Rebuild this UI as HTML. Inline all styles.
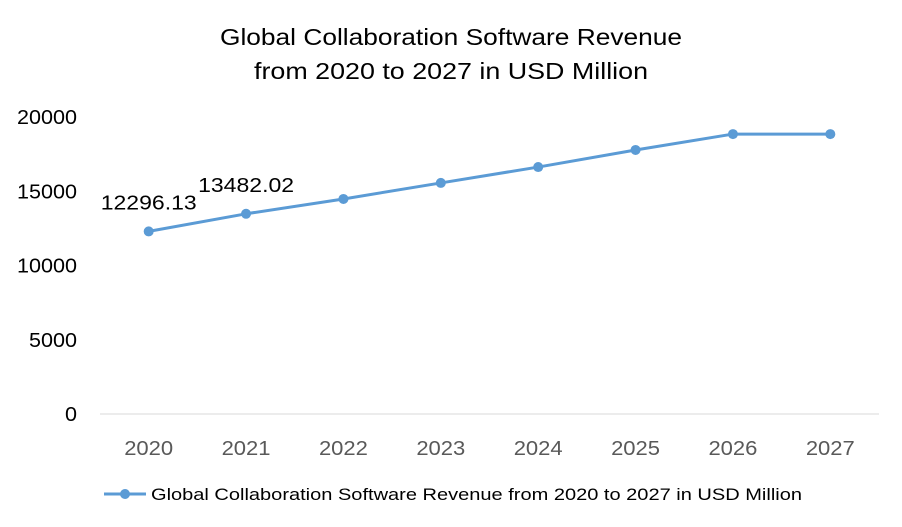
<!DOCTYPE html>
<html><head><meta charset="utf-8">
<style>
body{margin:0;background:#fff;}
svg{display:block;font-family:"Liberation Sans",sans-serif;}
</style></head>
<body>
<svg id="chart" width="902" height="527">
<text x="451" y="45" text-anchor="middle" font-size="23" textLength="462" lengthAdjust="spacingAndGlyphs" fill="#000">Global Collaboration Software Revenue</text>
<text x="451" y="79" text-anchor="middle" font-size="23" textLength="394" lengthAdjust="spacingAndGlyphs" fill="#000">from 2020 to 2027 in USD Million</text>
<g id="yaxis"></g>
<g id="xaxis"></g>
<g id="series"></g>
<g>
<line x1="104" y1="494" x2="146" y2="494" stroke="#5b9bd5" stroke-width="3"/>
<circle cx="125" cy="494" r="5" fill="#5b9bd5"/>
<text x="151" y="500" font-size="17" textLength="651" lengthAdjust="spacingAndGlyphs" fill="#000">Global Collaboration Software Revenue from 2020 to 2027 in USD Million</text>
</g>
</svg>
<script>
const categories=["2020","2021","2022","2023","2024","2025","2026","2027"];
const values=[12296.13,13482.02,14480,15560,16630,17780,18850,18850];
const yTicks=[0,5000,10000,15000,20000];
const labels=["12296.13","13482.02"];
const NS="http://www.w3.org/2000/svg";
const plotLeft=100,plotRight=879,plotTop=117,plotBottom=414,yMax=20000;
const bw=(plotRight-plotLeft)/categories.length;
const xs=i=>plotLeft+bw*(i+0.5);
const ys=v=>plotBottom-(v/yMax)*(plotBottom-plotTop);
function mk(tag,attrs,parent){const e=document.createElementNS(NS,tag);for(const k in attrs)e.setAttribute(k,attrs[k]);parent.appendChild(e);return e;}
const ya=document.getElementById('yaxis'),xa=document.getElementById('xaxis'),sg=document.getElementById('series');
yTicks.forEach(t=>{const s=String(t);const e=mk('text',{x:77,y:ys(t)+7,'text-anchor':'end','font-size':20,textLength:s.length*12,lengthAdjust:'spacingAndGlyphs',fill:'#000'},ya);e.textContent=s;

});
const ax=mk('line',{x1:plotLeft,y1:plotBottom,x2:plotRight,y2:plotBottom,stroke:'#d9d9d9','stroke-width':1},xa);


categories.forEach((c,i)=>{const e=mk('text',{x:xs(i),y:plotBottom+41,'text-anchor':'middle','font-size':20,textLength:49,lengthAdjust:'spacingAndGlyphs',fill:'#595959'},xa);e.textContent=c;

});
const pl=mk('polyline',{points:values.map((v,i)=>xs(i)+','+ys(v)).join(' '),fill:'none',stroke:'#5b9bd5','stroke-width':3,'stroke-linejoin':'round'},sg);


values.forEach((v,i)=>{const c=mk('circle',{cx:xs(i),cy:ys(v),r:5,fill:'#5b9bd5'},sg);

});
labels.forEach((l,i)=>{const t=mk('text',{x:xs(i),y:ys(values[i])-22,'text-anchor':'middle','font-size':20,textLength:96,lengthAdjust:'spacingAndGlyphs',fill:'#000'},sg);t.textContent=l;

});
</script>
</body></html>
